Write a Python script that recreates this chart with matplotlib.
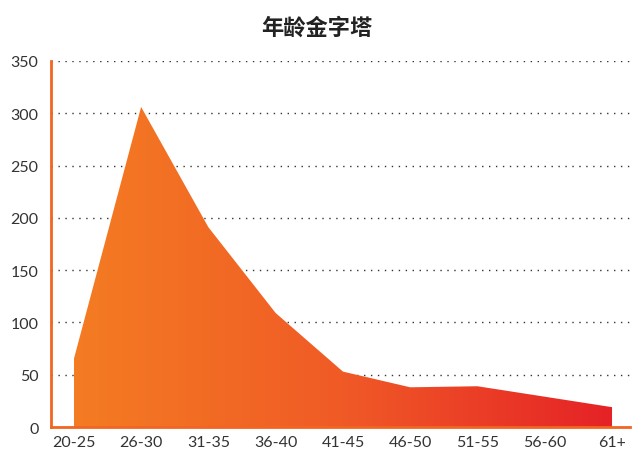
import matplotlib
matplotlib.use("Agg")
import matplotlib.pyplot as plt
import numpy as np
from matplotlib.colors import LinearSegmentedColormap
from matplotlib.patches import Polygon

plt.rcParams['font.family'] = ['Lato', 'Noto Sans CJK SC', 'DejaVu Sans']

age_groups = ["20-25", "26-30", "31-35", "36-40", "41-45", "46-50", "51-55", "56-60", "61+"]
counts = [65, 306, 191, 109, 53, 38, 39, 29, 19]
y_ticks = [0, 50, 100, 150, 200, 250, 300, 350]

fig = plt.figure(figsize=(6.34, 4.52), dpi=100)
ax = fig.add_axes([0.0804, 0.053, 0.9136, 0.810])

x = np.arange(len(age_groups))

# gradient fill clipped to the area polygon
cmap = LinearSegmentedColormap.from_list("og", ["#F47C22", "#F05A26", "#E52227"])
grad = np.linspace(0, 1, 256).reshape(1, -1)
img = ax.imshow(grad, cmap=cmap, aspect="auto", extent=[x[0], x[-1], 0, 350],
                origin="lower", zorder=2)
verts = [(x[0], 0)] + list(zip(x, counts)) + [(x[-1], 0)]
poly = Polygon(verts, closed=True, facecolor="none", edgecolor="none")
ax.add_patch(poly)
img.set_clip_path(poly)
ax.set_xlim(-0.34, len(age_groups) - 1 + 0.27)
ax.set_ylim(0, 350)

for v in y_ticks[1:]:
    ax.axhline(v, color="#333333", linestyle=(0, (1, 4)), linewidth=1, zorder=1)

ax.set_xticks(x)
ax.set_xticklabels(age_groups, fontsize=11.5, color="#333333")
ax.set_yticks(y_ticks)
ax.set_yticklabels([str(v) for v in y_ticks], fontsize=11.5, color="#333333")
ax.tick_params(axis="y", length=0, pad=9)
ax.tick_params(axis="x", length=0, pad=6)

for side in ["top", "right"]:
    ax.spines[side].set_visible(False)
for side in ["left", "bottom"]:
    ax.spines[side].set_color("#F26522")
    ax.spines[side].set_linewidth(2)
    ax.spines[side].set_zorder(3)

fig.text(0.5, 0.938, "年龄金字塔", ha="center", va="center", fontsize=16,
         fontweight="bold", color="#222222", family=["Noto Sans CJK SC", "DejaVu Sans"])

fig.savefig("out.png", dpi=100)
